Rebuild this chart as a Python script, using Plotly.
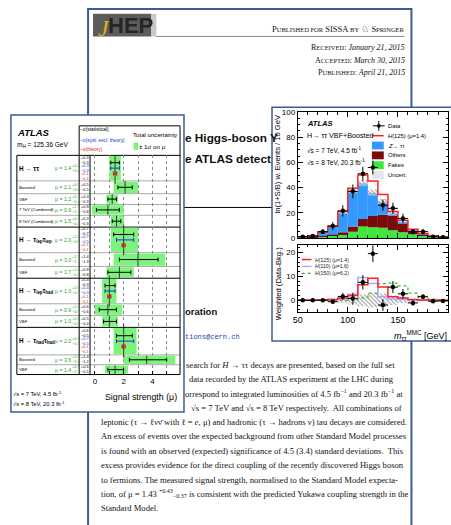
import plotly.graph_objects as go

W, H = 451, 525
def X(px): return px / W
def Y(py): return 1 - py / H

# ---------------- left chart data (signal strength summary) ----------------
row_labels = ["H → ττ", "Boosted", "VBF", "7 TeV (Combined)", "8 TeV (Combined)",
              "H → τ<sub>lep</sub>τ<sub>lep</sub>", "Boosted", "VBF",
              "H → τ<sub>lep</sub>τ<sub>had</sub>", "Boosted", "VBF",
              "H → τ<sub>had</sub>τ<sub>had</sub>", "Boosted", "VBF"]
is_main = [True, False, False, False, False, True, False, False, True, False, False, True, False, False]
mu      = [1.4, 2.1, 1.2, 0.9, 1.5, 2.0, 3.0, 1.7, 1.0, 0.9, 1.0, 2.0, 3.6, 1.4]
tot_up  = [0.4, 0.9, 0.4, 1.1, 0.5, 1.0, 1.9, 1.0, 0.5, 1.0, 0.6, 0.9, 2.0, 0.9]
tot_dn  = [0.4, 0.8, 0.4, 1.1, 0.4, 0.9, 1.7, 0.9, 0.5, 0.9, 0.5, 0.7, 1.6, 0.7]
stat_up = [0.3, 0.5, 0.3, 0.8, 0.3, 0.7, 1.4, 0.8, 0.4, 0.6, 0.5, 0.6, 1.4, 0.6]
stat_dn = [0.3, 0.5, 0.3, 0.8, 0.3, 0.7, 1.3, 0.8, 0.3, 0.6, 0.4, 0.5, 1.2, 0.5]
syst_up = [0.3, 0.7, 0.4, 0.7]      # combined rows only
syst_dn = [0.3, 0.5, 0.3, 0.5]
theo_up = [0.1, 0.1, 0.1, 0.1]
theo_dn = [0.1, 0.1, 0.1, 0.1]
mu_ticks = [0, 1, 2, 3, 4, 5]
mu_ticktext = ["0", "", "2", "", "4", ""]

# ---------------- right chart data (mass distribution) ----------------
mass   = [55, 65, 75, 85, 95, 105, 115, 125, 135, 145, 155, 165, 175, 185, 195]
fakes  = [0.4, 0.6, 1.0, 1.8, 3.0, 5.0, 9.0, 8.5, 8.0, 6.0, 4.5, 3.0, 1.5, 0.8, 0.4]
others = [0.2, 0.3, 0.5, 0.8, 1.5, 4.0, 6.0, 9.0, 10.5, 11.5, 6.5, 2.0, 1.5, 0.4, 0.2]
ztt    = [0.4, 0.6, 3.0, 6.4, 15.5, 28.5, 28.5, 18.5, 10.5, 2.0, 2.0, 1.5, 0.5, 0.4, 0.2]
h125   = [0.0, 0.0, 0.1, 0.3, 1.0, 2.0, 6.5, 9.2, 5.5, 1.5, 1.0, 0.3, 0.1, 0.1, 0.0]
h110   = [0.0, 0.0, 0.1, 0.3, 0.6, 2.5, 9.5, 7.0, 1.5, 0.5, 0.3, 0.1, 0.0, 0.0, 0.0]
h150   = [0.0, 0.0, 0.0, 0.0, 0.1, 0.3, 1.0, 3.0, 7.0, 7.2, 6.0, 3.0, 1.2, 0.5, 0.2]
data   = [1.0, 1.5, 5.0, 9.5, 21.5, 37.0, 51.0, 56.0, 26.0, 23.5, 15.5, 5.0, 5.0, 1.0, 0.5]
data_err = [0.8, 1.0, 2.0, 3.0, 4.5, 5.5, 5.5, 5.5, 4.5, 4.5, 3.8, 2.2, 2.2, 1.0, 0.8]
unc    = [0.1, 0.1, 0.3, 0.5, 1.0, 2.0, 2.5, 2.5, 2.0, 1.5, 1.0, 0.6, 0.3, 0.2, 0.1]
diff   = [0.0, 0.0, 0.0, -0.6, 1.6, 0.7, 7.5, 19.5, -2.0, 5.5, 2.7, -1.1, 1.5, -0.4, -0.3]
diff_err = [0.3, 0.3, 0.5, 0.8, 1.5, 2.5, 3.0, 3.5, 2.5, 2.5, 2.0, 1.2, 1.0, 0.5, 0.4]
diff_unc = [0.1, 0.1, 0.2, 0.4, 1.0, 1.8, 2.5, 3.0, 2.8, 2.0, 1.2, 0.6, 0.3, 0.2, 0.1]

# ---------------- paper text ----------------
abstract_lines = [
    (183, "search for <i>H</i> → ττ decays are presented, based on the full set"),
    (186, "data recorded by the ATLAS experiment at the LHC during"),
    (182, "orrespond to integrated luminosities of 4.5 fb<sup>−1</sup> and 20.3 fb<sup>−1</sup> at"),
    (188, "√s = 7 TeV and √s = 8 TeV respectively.  All combinations of"),
    (97, "leptonic (τ → ℓνν̄ with ℓ = <i>e</i>, μ) and hadronic (τ → hadrons ν) tau decays are considered."),
    (97, "An excess of events over the expected background from other Standard Model processes"),
    (97, "is found with an observed (expected) significance of 4.5 (3.4) standard deviations.  This"),
    (97, "excess provides evidence for the direct coupling of the recently discovered Higgs boson"),
    (97, "to fermions. The measured signal strength, normalised to the Standard Model expecta-"),
    (97, "tion, of μ = 1.43 <sup>+0.43</sup><sub>−0.37</sub> is consistent with the predicted Yukawa coupling strength in the"),
    (97, "Standard Model."),
]

# ---------------- layout constants ----------------
BLUE = "#3b5d95"
GREEN_BOX = "#7df27d"
GREEN_TXT = "#2ea02e"
SYST_C = "#2030e0"
THEO_C = "#e02020"
SERIF = "Liberation Serif"
SANS = "Liberation Sans"
CLEAR = "rgba(0,0,0,0)"
row_edges = [154, 180, 193, 204, 215, 227, 253, 267, 279, 305, 317, 329, 357, 367, 377]
centers = [(row_edges[i] + row_edges[i + 1]) / 2 for i in range(len(mu))]
heights = [row_edges[i + 1] - row_edges[i] for i in range(len(mu))]
main_idx = [i for i, m in enumerate(is_main) if m]

fig = go.Figure()

# ===== left chart traces =====
fig.add_trace(go.Bar(orientation="h", y=centers,
                     x=[u + d for u, d in zip(tot_up, tot_dn)],
                     base=[m - d for m, d in zip(mu, tot_dn)],
                     width=[h - 1.5 for h in heights],
                     marker=dict(color=GREEN_BOX, line=dict(width=0)),
                     xaxis="x", yaxis="y", hoverinfo="skip"))
fig.add_trace(go.Scatter(x=mu, y=centers, mode="markers",
                         marker=dict(symbol="line-ns", size=[h - 4 for h in heights],
                                     line=dict(width=1, color="black")),
                         xaxis="x", yaxis="y"))
stat_y = [c - 5.5 if m else c for c, m in zip(centers, is_main)]
fig.add_trace(go.Scatter(x=mu, y=stat_y, mode="markers", marker=dict(size=1, color=CLEAR),
                         error_x=dict(type="data", symmetric=False, array=stat_up, arrayminus=stat_dn,
                                      color="black", thickness=1, width=2),
                         xaxis="x", yaxis="y"))
fig.add_trace(go.Scatter(x=[mu[i] for i in main_idx], y=[centers[i] for i in main_idx],
                         mode="markers", marker=dict(size=1, color=CLEAR),
                         error_x=dict(type="data", symmetric=False, array=syst_up, arrayminus=syst_dn,
                                      color=SYST_C, thickness=1, width=2),
                         xaxis="x", yaxis="y"))
fig.add_trace(go.Scatter(x=[mu[i] for i in main_idx], y=[centers[i] + 5.5 for i in main_idx],
                         mode="markers", marker=dict(size=1, color=CLEAR),
                         error_x=dict(type="data", symmetric=False, array=theo_up, arrayminus=theo_dn,
                                      color=THEO_C, thickness=1.5, width=2),
                         xaxis="x", yaxis="y"))

# ===== right chart traces (upper) =====
base_o = fakes
base_z = [f + o for f, o in zip(fakes, others)]
total = [f + o + z for f, o, z in zip(fakes, others, ztt)]
for vals, base, col in [(fakes, [0] * len(mass), "#3ee63e"), (others, base_o, "#7a0a0a"), (ztt, base_z, "#3399ff")]:
    fig.add_trace(go.Bar(x=mass, y=vals, base=base, width=10,
                         marker=dict(color=col, line=dict(width=0)),
                         xaxis="x2", yaxis="y2", hoverinfo="skip"))
fig.add_trace(go.Bar(x=mass, y=[2 * u for u in unc], base=[t - u for t, u in zip(total, unc)], width=10,
                     marker=dict(color=CLEAR, line=dict(width=0),
                                 pattern=dict(shape="\\", fgcolor="#9a9a9a", bgcolor="rgba(255,255,255,0.45)",
                                              size=3, solidity=0.35, fillmode="replace")),
                     xaxis="x2", yaxis="y2", hoverinfo="skip"))
edges = [m - 5 for m in mass] + [mass[-1] + 5]
def step(vals):
    return list(vals) + [vals[-1]]
fig.add_trace(go.Scatter(x=edges, y=step([t + s for t, s in zip(total, h125)]), mode="lines",
                         line=dict(color="#ff2020", width=1.5, shape="hv"), xaxis="x2", yaxis="y2"))
fig.add_trace(go.Scatter(x=mass, y=data, mode="markers",
                         marker=dict(color="black", size=4.5),
                         error_y=dict(type="data", array=data_err, color="black", thickness=1, width=0),
                         error_x=dict(type="constant", value=5, color="black", thickness=1, width=0),
                         xaxis="x2", yaxis="y2"))

# ===== right chart traces (lower) =====
fig.add_trace(go.Bar(x=mass, y=[2 * u for u in diff_unc], base=[-u for u in diff_unc], width=10,
                     marker=dict(color=CLEAR, line=dict(width=0),
                                 pattern=dict(shape="\\", fgcolor="#9a9a9a", bgcolor=CLEAR,
                                              size=3, solidity=0.35, fillmode="replace")),
                     xaxis="x3", yaxis="y3", hoverinfo="skip"))
fig.add_trace(go.Scatter(x=edges, y=step(h150), mode="lines",
                         line=dict(color="#33b833", width=1.3, dash="dot", shape="hv"), xaxis="x3", yaxis="y3"))
fig.add_trace(go.Scatter(x=edges, y=step(h110), mode="lines",
                         line=dict(color="#a8a8ff", width=1.5, shape="hv"), xaxis="x3", yaxis="y3"))
fig.add_trace(go.Scatter(x=edges, y=step(h125), mode="lines",
                         line=dict(color="#ff2020", width=1.5, shape="hv"), xaxis="x3", yaxis="y3"))
fig.add_trace(go.Scatter(x=mass, y=diff, mode="markers",
                         marker=dict(color="black", size=4.5),
                         error_y=dict(type="data", array=diff_err, color="black", thickness=1, width=0),
                         error_x=dict(type="constant", value=5, color="black", thickness=1, width=0),
                         xaxis="x3", yaxis="y3"))

# ===== shapes =====
shapes = []
def rect(x0, y0, x1, y1, fill=None, line=None, lw=1):
    shapes.append(dict(type="rect", xref="paper", yref="paper", x0=X(x0), x1=X(x1), y0=Y(y1), y1=Y(y0),
                       fillcolor=fill or CLEAR, line=dict(color=line or CLEAR, width=lw if line else 0),
                       layer="below"))
def hline(x0, x1, y, color="black", lw=1, dash="solid"):
    shapes.append(dict(type="line", xref="paper", yref="paper", x0=X(x0), x1=X(x1), y0=Y(y), y1=Y(y),
                       line=dict(color=color, width=lw, dash=dash), layer="below"))
def vline(x, y0, y1, color="black", lw=1):
    shapes.append(dict(type="line", xref="paper", yref="paper", x0=X(x), x1=X(x), y0=Y(y0), y1=Y(y1),
                       line=dict(color=color, width=lw), layer="below"))

# paper page
rect(84, 5, 411, 540, fill="white", line=BLUE, lw=2)
rect(89, 10, 148, 33, fill="#5c5c5c")
rect(148, 10, 153, 33, fill="#c8c8c8")
hline(153, 404, 33, color="#888", lw=1)
hline(97, 404, 207, color="black", lw=1)
# inset boxes
rect(6, 113, 181, 415, fill="white", line=BLUE, lw=1.5)
rect(270, 105, 470, 343, fill="white", line=BLUE, lw=1.5)

# left chart table
for y in [154, 227, 279, 329, 377]:
    hline(12, 177, y, lw=1)
for i in range(len(mu)):
    if i + 1 < len(mu) and not is_main[i + 1]:
        hline(12, 177, row_edges[i + 1], color="#555", lw=0.5)
vline(12, 154, 377)
vline(75, 124, 377)
vline(86, 154, 377)
vline(177, 124, 377)
hline(75, 177, 124, lw=1)
rect(130, 141, 134.5, 148.5, fill=GREEN_BOX)

# right chart legend glyphs
shapes.append(dict(type="circle", xref="paper", yref="paper", x0=X(376), x1=X(380), y0=Y(126), y1=Y(122),
                   fillcolor="black", line=dict(width=0), layer="below"))
hline(372, 384, 124, lw=1)
vline(378, 119, 129)
hline(371, 383, 134, color="#ff2020", lw=1.5)
rect(371, 140, 383, 148, fill="#3399ff")
rect(371, 150, 383, 158, fill="#7a0a0a")
rect(371, 160, 383, 168, fill="#3ee63e")
rect(371, 170, 383, 178, fill="#e6e6e6")
hline(300, 310, 260, color="#ff2020", lw=1.5)
hline(300, 310, 267, color="#a8a8ff", lw=1.5)
hline(300, 310, 274, color="#33b833", lw=1.3, dash="dot")

# ===== annotations =====
anns = []
def T(x, y, text, size=8, color="black", family=SANS, xa="left", ya="middle", angle=0):
    anns.append(dict(x=X(x), y=Y(y), xref="paper", yref="paper", text=text, showarrow=False,
                     xanchor=xa, yanchor=ya, textangle=angle, borderpad=0, borderwidth=0,
                     font=dict(size=size, color=color, family=family)))

# paper header
T(94, 24, "<i>J</i>", 24, "#d6b020", SERIF, "left")
T(104, 22, "<b>HEP</b>", 22, "#262626", SANS, "left")
T(404, 25, "P<span style='font-size:6.5px'>UBLISHED FOR</span> SISSA <span style='font-size:6.5px'>BY</span> ♘ S<span style='font-size:6.5px'>PRINGER</span>",
  8.5, "#111", SERIF, "right")
T(404, 44, "R<span style='font-size:6.5px'>ECEIVED</span>: <i>January 21, 2015</i>", 8, "#111", SERIF, "right")
T(404, 57, "A<span style='font-size:6.5px'>CCEPTED</span>: <i>March 30, 2015</i>", 8, "#111", SERIF, "right")
T(404, 70, "P<span style='font-size:6.5px'>UBLISHED</span>: <i>April 21, 2015</i>", 8, "#111", SERIF, "right")
T(182, 136, "<b>e Higgs-boson Y</b>", 11.8, "#111", SANS)
T(182, 158, "<b>e ATLAS detect</b>", 11.8, "#111", SANS)
T(182, 313, "<b>oration</b>", 9.5, "#111", SANS)
T(182, 339, "tions@cern.ch", 7, "#2040c0", "Liberation Mono")
for i, (x0, line) in enumerate(abstract_lines):
    T(x0, 367 + 14.6 * i, line, 8.6, "#111", SERIF)

# left chart texts
TINY = 3.8
T(12, 131, "<b><i>ATLAS</i></b>", 9.5)
T(12, 143, "m<sub>H</sub> = 125.36 GeV", 6.5)
T(76, 128, "−σ(statistical)", 4.8)
T(76, 138.5, "−σ(syst. excl. theory)", 4.8, SYST_C)
T(76, 148.5, "−σ(theory)", 4.8, THEO_C)
T(129, 133, "Total uncertainty", 6.1)
T(136, 145, "± 1σ on μ", 6.2)
for i in range(len(mu)):
    c = centers[i]
    if is_main[i]:
        T(14, c, "<b>" + row_labels[i] + "</b>", 6.3)
        k = main_idx.index(i)
        blocks = [(stat_up[i], stat_dn[i], "black"), (syst_up[k], syst_dn[k], SYST_C),
                  (theo_up[k], theo_dn[k], THEO_C)]
        for j, (u, d, col) in enumerate(blocks):
            T(80.5, c - 8.2 + 8.2 * j, "+%.1f<br>−%.1f" % (u, d), TINY, col, SANS, "center")
    else:
        T(14, c, row_labels[i], 4.3)
        T(80.5, c, "+%.1f<br>−%.1f" % (stat_up[i], stat_dn[i]), TINY, "black", SANS, "center")
    T(51, c, "μ = %.1f" % mu[i], 5.2, GREEN_TXT)
    T(67.8, c, "+%.1f<br>−%.1f" % (tot_up[i], tot_dn[i]), TINY, GREEN_TXT)
T(8, 396, "√s = 7 TeV, 4.5 fb<sup>-1</sup>", 5.8)
T(8, 406, "√s = 8 TeV, 20.3 fb<sup>-1</sup>", 5.8)
T(138, 400, "Signal strength (μ)", 8.8, "black", SANS, "center")

# right chart texts
T(305, 122, "<b><i>ATLAS</i></b>", 7.5)
T(305, 134, "H→ ττ VBF+Boosted", 7.2)
T(305, 149, "√s = 7 TeV, 4.5 fb<sup>-1</sup>", 6.5)
T(305, 161, "√s = 8 TeV, 20.3 fb<sup>-1</sup>", 6.5)
for j, t in enumerate(["Data", "<i>H</i>(125) (μ=1.4)", "<i>Z</i>→ ττ", "Others", "Fakes", "Uncert."]):
    T(387, 124 + 10 * j, t, 5.8)
for j, t in enumerate(["<i>H</i>(125) (μ=1.4)", "<i>H</i>(110) (μ=1.6)", "<i>H</i>(150) (μ=6.2)"]):
    T(313, 260 + 7 * j, t, 5.2, "#222")
T(276, 112, "ln(1+S/B) w. Events / 10 GeV", 7.6, "black", SANS, "center", "top", -90)
T(276, 247, "Weighted (Data-Bkg.)", 7.6, "black", SANS, "center", "top", -90)
T(447, 337, "<i>m</i><sub>ττ</sub><sup>MMC</sup> [GeV]", 9, "black", SANS, "right")

# ===== axes =====
rax = dict(showline=True, linecolor="black", linewidth=1, mirror="allticks", ticks="inside",
           ticklen=5, tickcolor="black", tickwidth=1, showgrid=False, zeroline=False,
           tickfont=dict(size=8, family=SANS, color="black"))
fig.update_layout(
    width=W, height=H, margin=dict(l=0, r=0, t=0, b=0), autosize=False,
    paper_bgcolor="white", plot_bgcolor=CLEAR,
    barmode="overlay", showlegend=False,
    shapes=shapes, annotations=anns,
    xaxis=dict(domain=[X(86), X(177)], range=[-0.345, 5.93], anchor="y",
               tickvals=mu_ticks, ticktext=mu_ticktext, ticks="inside", ticklen=4,
               tickcolor="black", showgrid=True, griddash="dot", gridcolor="#888", gridwidth=0.7,
               zeroline=False, showline=False, tickfont=dict(size=8, family=SANS, color="black")),
    yaxis=dict(domain=[Y(377), Y(154)], range=[377, 154], anchor="x", visible=False),
    xaxis2=dict(domain=[X(296), X(448)], range=[50, 200], anchor="y2", dtick=50, tick0=50,
                showticklabels=False, minor=dict(dtick=10, ticks="inside", ticklen=2.5, tickcolor="black"), **rax),
    yaxis2=dict(domain=[Y(238), Y(110)], range=[0, 100], anchor="x2", dtick=20,
                minor=dict(dtick=5, ticks="inside", ticklen=2.5, tickcolor="black"), **rax),
    xaxis3=dict(domain=[X(296), X(448)], range=[50, 200], anchor="y3", dtick=50, tick0=50,
                minor=dict(dtick=10, ticks="inside", ticklen=2.5, tickcolor="black"),
                **{k: v for k, v in rax.items() if k != "tickfont"}, tickfont=dict(size=9, family=SANS, color="black")),
    yaxis3=dict(domain=[Y(313), Y(245)], range=[-4.75, 23.2], anchor="x3", tickvals=[0, 10, 20],
                minor=dict(dtick=2, ticks="inside", ticklen=2.5, tickcolor="black"), **rax),
)
fig.write_html("out.html")
